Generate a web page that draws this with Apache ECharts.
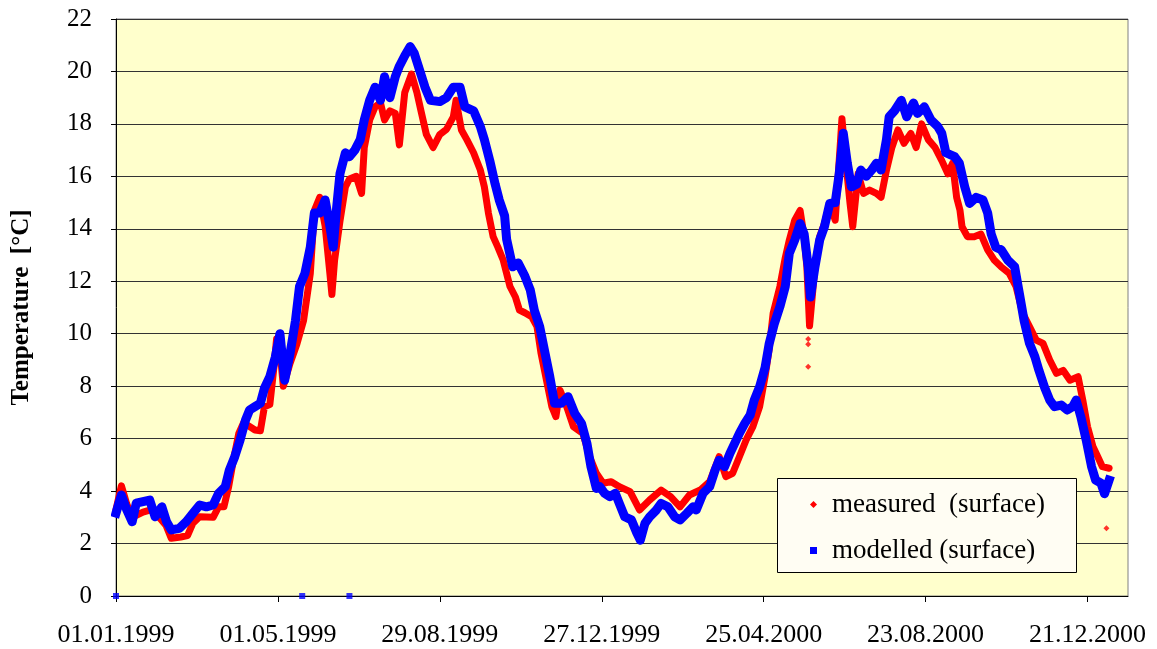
<!DOCTYPE html>
<html>
<head>
<meta charset="utf-8">
<script src="https://cdn.jsdelivr.net/npm/echarts@6/dist/echarts.min.js"></script>
<style>
html,body{margin:0;padding:0;background:#fff;}
#chart{width:1157px;height:649px;}
</style>
</head>
<body>
<div id="chart"></div>
<script>
// x values are days since 01.01.1999
const xTickLabels = ['01.01.1999','01.05.1999','29.08.1999','27.12.1999','25.04.2000','23.08.2000','21.12.2000'];
const xTickStep = 120;
const seriesNames = ['measured  (surface)', 'modelled (surface)'];

const measuredDay = [0,4,8,12,20,27,37,41,48,53,57,62,72,76,80,83.5,87,91,94.5,99,103,107,110,114,117,119,121.5,124,129,134,139,144,147,151,155,158.5,160,162,166,170,173,178,182,184,188,192,196,199,203,207,210,214,219,223,226,230,235,240,245,250,252,256,260,265,270,273,276,279.5,283,287,292,296,299,303,308,312,315,319,323,326,329,334,339,346,351,356,361,367,373,381,388,395.5,404,411,418,425,433,440,447,452,457,462,467,472,477,481,484,487,492,496,499,503,507,510,512,514,518,521.5,525,529,533,537,538,541,544,546,550,554,558.5,563.5,567,571,575,579.5,584,589,593,597,602,607,612,616.5,620,623,625.5,627,631,636,641,646,651,656,662,667,672,677,682,687,692,697,702,707,713,716.5,720,724,727.6,731,736];
const measuredTemp = [3.3,4.2,3.5,3.0,3.2,3.3,2.7,2.2,2.25,2.3,2.78,3.02,3.0,3.4,3.4,4.17,5.18,6.2,6.6,6.46,6.33,6.3,7.22,7.3,8.7,9.8,9.4,8.0,8.87,9.6,10.5,12.3,14.7,15.2,14.1,12.3,11.5,12.8,14.3,15.6,15.9,16.0,15.35,17.1,18.15,18.65,18.8,18.15,18.5,18.4,17.2,19.2,19.9,19.2,18.5,17.6,17.1,17.6,17.8,18.27,18.9,17.77,17.4,16.9,16.24,15.6,14.6,13.7,13.3,12.8,11.8,11.4,10.9,10.8,10.65,10.27,9.25,8.23,7.22,6.84,7.85,7.22,6.46,6.2,5.31,4.68,4.3,4.36,4.17,3.98,3.28,3.66,4.04,3.79,3.4,3.85,4.04,4.36,5.31,4.55,4.68,5.31,5.95,6.46,7.22,8.36,9.38,10.78,11.8,12.9,13.57,14.33,14.7,13.7,12.55,10.3,12.55,13.7,14.2,14.97,14.33,17.4,18.2,16.5,14.97,14.08,16.1,15.35,15.48,15.35,15.2,16.24,17.1,17.77,17.26,17.64,17.1,18.0,17.4,17.1,16.6,16.1,16.5,15.2,14.7,14.08,13.7,13.7,13.8,13.2,12.8,12.55,12.3,11.8,10.78,10.27,9.76,9.63,9.0,8.49,8.6,8.23,8.36,7.47,6.46,5.7,5.31,4.93,4.87];
// isolated measured readings away from the band
const measuredIsoDay = [513,513,513,734];
const measuredIsoTemp = [9.8,9.6,8.74,2.58];

const modelledDay = [0,4,8,12,15,20,25,29,34,37.5,41,47,52,57,62,67,72,76,81,84,88,92,96,99,103,107,110,114,118,121.5,125,129,133,136,140,144,147,151,155,158.5,161,163.5,166,170,173,177,181,184,188,192,196,199,203,207,210,214,218,221,225,229,233,240,245,250,255,258.5,265,270,273,277,281,284,288,289.5,294,298,303,307,310,314,318,321.5,325,330,335,340,345,349,352,356,358.5,362,366,370,373,377,382,386,388.6,392,395.5,400.5,404,409,414,418,423,427.6,430,435,440,444,447,451,455,458.5,462,466,470,473,477,481,484,488,492,496,499,503,507,510,513,514.6,518,521.5,525,529,533,536,539,542,545,549,552,556,560,563.5,567,571,573,577,582,586,591,594,599,604,609,612,615,621.5,625,629,632.6,637.5,642.5,646,648.6,652,656,661,666,669.6,673,677,681,684,688,692,695.5,700.5,705,709,711.6,715,719,723,726,730,732.6,736];
const modelledTemp = [3.16,3.85,3.28,2.83,3.54,3.6,3.66,3.02,3.4,2.83,2.52,2.58,2.83,3.15,3.47,3.4,3.47,3.91,4.17,4.8,5.31,5.95,6.71,7.09,7.22,7.35,7.92,8.36,9.1,10.0,8.23,9.25,10.5,11.8,12.3,13.3,14.6,14.6,15.1,14.1,13.3,14.8,16.1,16.9,16.75,17.0,17.4,18.15,18.9,19.4,18.9,19.8,19.0,19.8,20.2,20.6,20.95,20.7,20.05,19.4,18.9,18.85,19.0,19.4,19.4,18.65,18.5,17.9,17.4,16.6,15.7,15.1,14.5,13.6,12.55,12.7,12.2,11.67,10.9,10.27,9.25,8.36,7.35,7.35,7.6,6.96,6.58,5.82,4.93,4.1,4.17,3.92,3.79,3.92,3.53,3.02,2.9,2.4,2.13,2.77,3.02,3.28,3.53,3.4,3.02,2.9,3.15,3.4,3.28,3.91,4.17,4.8,5.18,4.93,5.44,5.82,6.2,6.58,6.9,7.47,7.98,8.7,9.6,10.4,11.03,11.8,13.07,13.57,14.2,13.8,12.55,11.4,12.55,13.57,14.08,14.97,15.0,16.1,17.64,16.5,15.6,15.7,16.24,16.0,16.24,16.5,16.24,17.4,18.27,18.5,18.9,18.27,18.8,18.4,18.65,18.15,17.9,17.64,16.9,16.75,16.5,15.6,14.97,15.2,15.1,14.6,13.8,13.3,13.2,12.8,12.55,11.5,10.5,9.63,9.12,8.6,7.98,7.47,7.22,7.28,7.09,7.22,7.47,6.84,5.95,4.93,4.42,4.3,3.9,4.42];
// isolated modelled values at zero
const modelledIsoDay = [0,138,173];
const modelledIsoTemp = [0,0,0];

const yMin = 0, yMax = 22, yStep = 2;
const xMin = 0, xMax = 750;

function pairs(a, b){ return a.map((d,i)=>[d,b[i]]); }

const FONT = "'Liberation Serif','Times New Roman',serif";
const chart = echarts.init(document.getElementById('chart'), null, {renderer:'canvas'});
chart.setOption({
  animation:false,
  backgroundColor:'#ffffff',
  grid:{left:116, top:19, right:29, bottom:53, containLabel:false, outerBoundsMode:'none',
    show:true, backgroundColor:'#FFFFCC', borderColor:'#808080', borderWidth:1},
  xAxis:{
    type:'value', min:xMin, max:xMax, interval:xTickStep,
    axisLine:{show:true, onZero:false, lineStyle:{color:'#000', width:1}},
    axisTick:{show:true, length:6, lineStyle:{color:'#000'}},
    splitLine:{show:false},
    axisLabel:{fontFamily:FONT, fontSize:26, color:'#000', margin:26, showMaxLabel:false,
      formatter:function(v){ return (v % xTickStep === 0) ? (xTickLabels[v / xTickStep] || '') : ''; }}
  },
  yAxis:{
    type:'value', min:yMin, max:yMax, interval:yStep,
    name:'Temperature  [°C]', nameLocation:'middle', nameGap:82,
    nameTextStyle:{fontFamily:FONT, fontSize:25, fontWeight:'bold', color:'#000'},
    axisLine:{show:true, lineStyle:{color:'#000', width:1}},
    axisTick:{show:true, length:5, lineStyle:{color:'#000'}},
    splitLine:{show:true, lineStyle:{color:'#333', width:1}},
    axisLabel:{fontFamily:FONT, fontSize:25, color:'#000', margin:24}
  },
  legend:{
    orient:'vertical', left:805, top:486, z:20,
    itemWidth:7, itemHeight:7, itemGap:19,
    textStyle:{fontFamily:FONT, fontSize:27, color:'#000', lineHeight:27, padding:[0,0,0,10]},
    data:[{name:seriesNames[0], icon:'diamond'},{name:seriesNames[1], icon:'rect'}]
  },
  graphic:[{type:'rect', z:15, shape:{x:777.5, y:478.5, width:299, height:94},
    style:{fill:'#FFFDF3', stroke:'#000', lineWidth:1}}],
  series:[
    {name:seriesNames[0], type:'line', data:pairs(measuredDay, measuredTemp), showSymbol:false, symbol:'none',
      itemStyle:{color:'#FF0000'}, lineStyle:{color:'#FF0000', width:7, join:'round', cap:'round'}, z:2},
    {name:seriesNames[0], type:'scatter', data:pairs(measuredIsoDay, measuredIsoTemp), symbol:'diamond', symbolSize:6,
      itemStyle:{color:'#FF0000'}, z:2},
    {name:seriesNames[1], type:'line', data:pairs(modelledDay, modelledTemp), showSymbol:false, symbol:'none',
      itemStyle:{color:'#0000FF'}, lineStyle:{color:'#0000FF', width:9, join:'round', cap:'square'}, z:3},
    {name:seriesNames[1], type:'scatter', data:pairs(modelledIsoDay, modelledIsoTemp), symbol:'rect', symbolSize:6,
      itemStyle:{color:'#0000FF'}, z:3, clip:false}
  ]
});
</script>
</body>
</html>
